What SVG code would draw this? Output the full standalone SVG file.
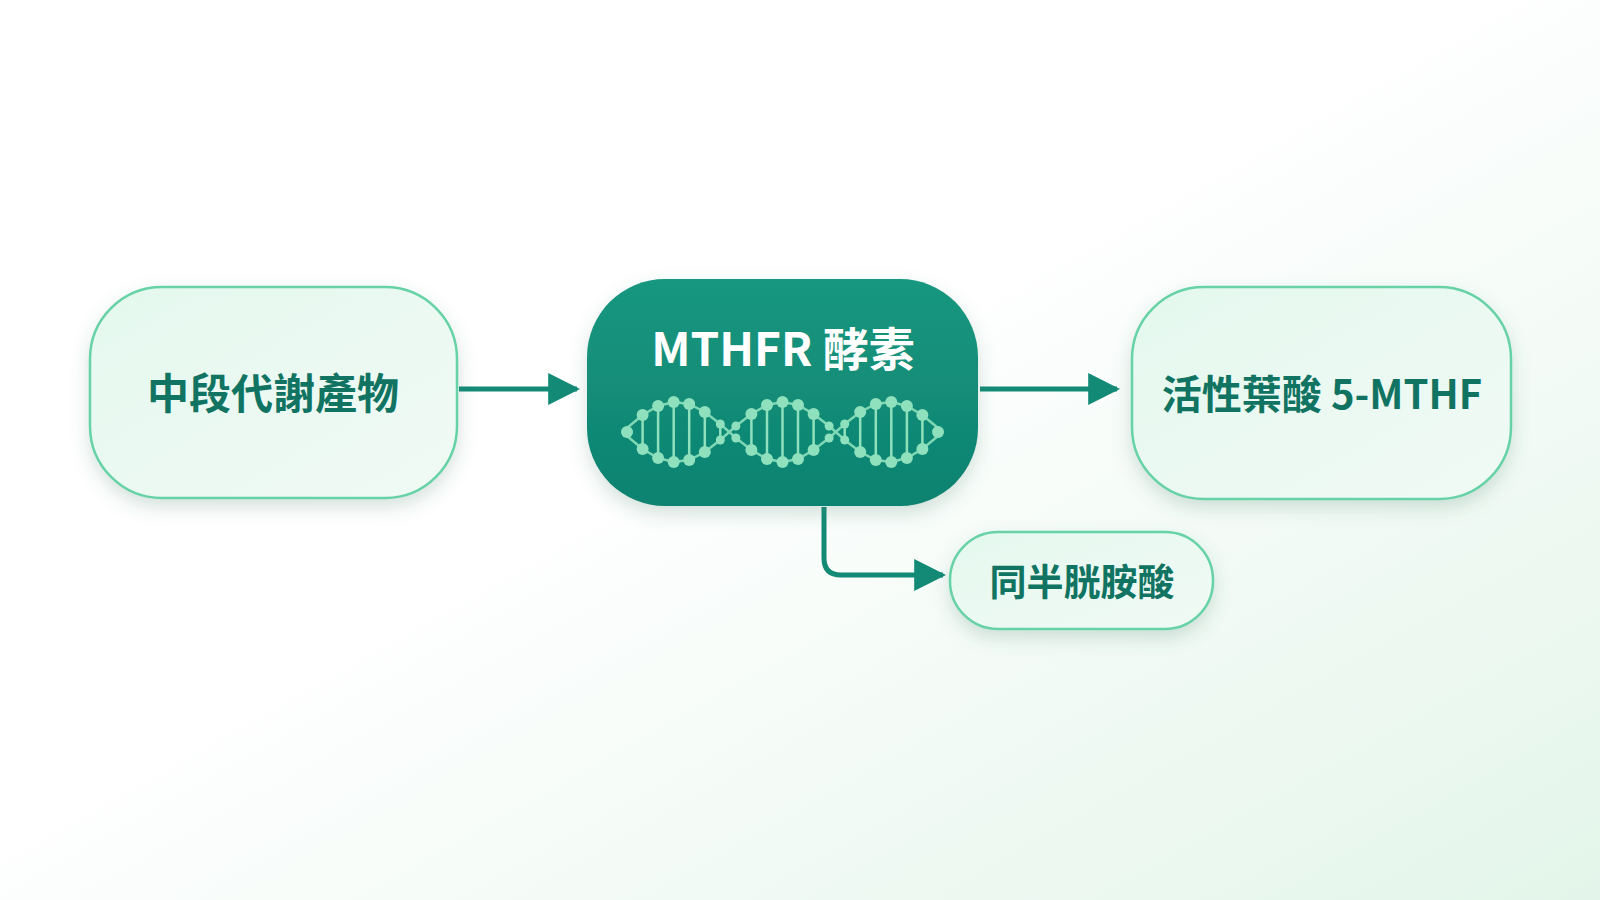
<svg xmlns="http://www.w3.org/2000/svg" width="1600" height="900" viewBox="0 0 1600 900">
<defs>
<linearGradient id="bg" x1="0" y1="0" x2="1" y2="1"><stop offset="0.45" stop-color="#ffffff"/><stop offset="1" stop-color="#e3f5ea"/></linearGradient>
<linearGradient id="nf" x1="0" y1="0" x2="1" y2="1"><stop offset="0" stop-color="#e4f8ee"/><stop offset="1" stop-color="#f1faf5"/></linearGradient>
<linearGradient id="cf" x1="0" y1="0" x2="0" y2="1"><stop offset="0" stop-color="#15977f"/><stop offset="1" stop-color="#0f8270"/></linearGradient>
<filter id="sh" x="-20%" y="-20%" width="140%" height="150%"><feDropShadow dx="0" dy="8" stdDeviation="9" flood-color="#3c7a60" flood-opacity="0.22"/></filter>
<marker id="a2" viewBox="0 0 10 10" refX="9" refY="5" markerWidth="32" markerHeight="34" markerUnits="userSpaceOnUse" orient="auto"><path d="M0,0 L10,5 L0,10 z" fill="#138a76"/></marker>
</defs>
<style>
.n{fill:url(#nf);stroke:#66d2a6;stroke-width:2.5;filter:url(#sh)}
.t{font-family:"Noto Sans CJK TC","Noto Sans",sans-serif;font-weight:700;fill:#117462;text-anchor:middle}
.c{stroke:#138a76;stroke-width:5;fill:none;marker-end:url(#a2)}
.r{stroke:#8fe0bd;stroke-width:2.5}
.d{fill:#8fe0bd}
.s{stroke:#7fd8b3;stroke-width:2.5;fill:none}
</style>
<rect width="1600" height="900" fill="url(#bg)"/>
<g id="connectors">
<path class="c" d="M459 389 H577"/>
<path class="c" d="M980 389 H1117"/>
<path class="c" d="M824 507 V558 Q824 575 841 575 H943"/>
</g>
<g id="node-left"><rect class="n" x="90" y="287" width="367" height="211" rx="72"/><text class="t" x="273" y="409" font-size="42">中段代謝產物</text></g>
<g id="node-right"><rect class="n" x="1132" y="287" width="379" height="212" rx="72"/><text class="t" x="1322" y="409" font-size="40">活性葉酸 5-MTHF</text></g>
<g id="node-bottom"><rect class="n" x="950" y="532" width="263" height="97" rx="48"/><text class="t" x="1082" y="596" font-size="37">同半胱胺酸</text></g>
<g id="node-center">
<rect x="587" y="279" width="391" height="227" rx="78" fill="url(#cf)" filter="url(#sh)"/>
<text x="783" y="366" font-family="'Noto Sans CJK TC','Noto Sans',sans-serif" font-weight="700" font-size="46" fill="#ffffff" text-anchor="middle">MTHFR 酵素</text>
<g id="dna">
<polyline class="s" points="627,428 642.6,415 658.1,406 673.7,402 689.2,404 704.8,412 720.3,424 735.9,438 751.4,450 767,459 782.5,462 798,459 813.6,450 829.1,438 844.7,424 860.2,412 875.8,404 891.3,402 906.9,406 922.4,415 938,428"/>
<polyline class="s" points="627,436 642.6,449 658.1,458 673.7,462 689.2,460 704.8,452 720.3,440 735.9,426 751.4,414 767,405 782.5,402 798,405 813.6,414 829.1,426 844.7,440 860.2,452 875.8,460 891.3,462 906.9,458 922.4,449 938,436"/>
<g class="r">
<line x1="642.6" y1="415" x2="642.6" y2="449"/><line x1="658.1" y1="406" x2="658.1" y2="458"/><line x1="673.7" y1="402" x2="673.7" y2="462"/><line x1="689.2" y1="404" x2="689.2" y2="460"/><line x1="704.8" y1="412" x2="704.8" y2="452"/><line x1="720.3" y1="424" x2="720.3" y2="440"/>
<line x1="751.4" y1="414" x2="751.4" y2="450"/><line x1="767" y1="405" x2="767" y2="459"/><line x1="782.5" y1="402" x2="782.5" y2="462"/><line x1="798" y1="405" x2="798" y2="459"/><line x1="813.6" y1="414" x2="813.6" y2="450"/>
<line x1="844.7" y1="424" x2="844.7" y2="440"/><line x1="860.2" y1="412" x2="860.2" y2="452"/><line x1="875.8" y1="404" x2="875.8" y2="460"/><line x1="891.3" y1="402" x2="891.3" y2="462"/><line x1="906.9" y1="406" x2="906.9" y2="458"/><line x1="922.4" y1="415" x2="922.4" y2="449"/>
</g>
<g class="d">
<circle cx="627" cy="432" r="6"/><circle cx="938" cy="432" r="6"/>
<circle cx="642.6" cy="415" r="6"/><circle cx="642.6" cy="449" r="6"/><circle cx="658.1" cy="406" r="6"/><circle cx="658.1" cy="458" r="6"/><circle cx="673.7" cy="402" r="6"/><circle cx="673.7" cy="462" r="6"/><circle cx="689.2" cy="404" r="6"/><circle cx="689.2" cy="460" r="6"/><circle cx="704.8" cy="412" r="6"/><circle cx="704.8" cy="452" r="6"/><circle cx="720.3" cy="424" r="4.5"/><circle cx="720.3" cy="440" r="4.5"/>
<circle cx="735.9" cy="426" r="4.5"/><circle cx="735.9" cy="438" r="4.5"/>
<circle cx="751.4" cy="414" r="6"/><circle cx="751.4" cy="450" r="6"/><circle cx="767" cy="405" r="6"/><circle cx="767" cy="459" r="6"/><circle cx="782.5" cy="402" r="6"/><circle cx="782.5" cy="462" r="6"/><circle cx="798" cy="405" r="6"/><circle cx="798" cy="459" r="6"/><circle cx="813.6" cy="414" r="6"/><circle cx="813.6" cy="450" r="6"/>
<circle cx="829.1" cy="426" r="4.5"/><circle cx="829.1" cy="438" r="4.5"/>
<circle cx="844.7" cy="424" r="4.5"/><circle cx="844.7" cy="440" r="4.5"/><circle cx="860.2" cy="412" r="6"/><circle cx="860.2" cy="452" r="6"/><circle cx="875.8" cy="404" r="6"/><circle cx="875.8" cy="460" r="6"/><circle cx="891.3" cy="402" r="6"/><circle cx="891.3" cy="462" r="6"/><circle cx="906.9" cy="406" r="6"/><circle cx="906.9" cy="458" r="6"/><circle cx="922.4" cy="415" r="6"/><circle cx="922.4" cy="449" r="6"/>
</g>
</g>
</g>
</svg>
